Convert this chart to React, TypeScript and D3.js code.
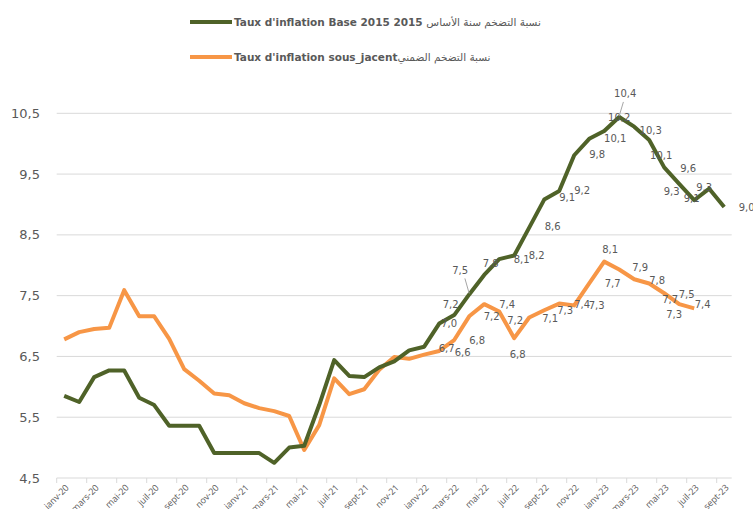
import React, { useEffect, useRef } from 'react';
import * as d3 from 'd3';

const months = [
  'janv-20', 'févr-20', 'mars-20', 'avr-20', 'mai-20', 'juin-20', 'juil-20', 'août-20', 'sept-20', 'oct-20', 'nov-20', 'déc-20',
  'janv-21', 'févr-21', 'mars-21', 'avr-21', 'mai-21', 'juin-21', 'juil-21', 'août-21', 'sept-21', 'oct-21', 'nov-21', 'déc-21',
  'janv-22', 'févr-22', 'mars-22', 'avr-22', 'mai-22', 'juin-22', 'juil-22', 'août-22', 'sept-22', 'oct-22', 'nov-22', 'déc-22',
  'janv-23', 'févr-23', 'mars-23', 'avr-23', 'mai-23', 'juin-23', 'juil-23', 'août-23', 'sept-23',
];

// Taux d'inflation Base 2015
const baseValues = [
  5.85, 5.75, 6.16, 6.27, 6.27, 5.82, 5.70, 5.36, 5.36, 5.36, 4.91, 4.91,
  4.91, 4.91, 4.75, 5.00, 5.03, 5.70, 6.44, 6.18, 6.16, 6.32, 6.42, 6.60,
  6.66, 7.04, 7.18, 7.52, 7.84, 8.10, 8.16, 8.62, 9.08, 9.22, 9.81, 10.08,
  10.21, 10.44, 10.28, 10.06, 9.61, 9.34, 9.07, 9.26, 8.96,
];

// Taux d'inflation sous-jacent
const coreValues = [
  6.78, 6.90, 6.95, 6.97, 7.59, 7.16, 7.16, 6.79, 6.29, 6.10, 5.89, 5.86,
  5.73, 5.65, 5.60, 5.52, 4.96, 5.37, 6.14, 5.88, 5.96, 6.28, 6.49, 6.46,
  6.53, 6.59, 6.77, 7.16, 7.36, 7.24, 6.80, 7.14, 7.26, 7.37, 7.34, 7.70,
  8.06, 7.93, 7.77, 7.70, 7.54, 7.36, 7.29,
];

const yTicks = [4.5, 5.5, 6.5, 7.5, 8.5, 9.5, 10.5];

// data label placement: [month index, dx, dy, leader line]
const baseLabels: [number, number, number, boolean?][] = [
  [24, 22.5, 1.5], [25, 10, 0], [26, -3.5, -11], [27, -9, -24, true], [28, 6.5, -11],
  [29, 22.5, 0.5], [30, 22.5, 0], [31, 23.5, -1.5], [32, 23, -2.5], [33, 23, -1],
  [34, 23, -1], [35, 26, 0], [36, 15, -13], [37, 6, -23, true], [38, 16.5, 4],
  [39, 12, 15], [40, 24, 1], [41, -7.5, 8], [42, -2.5, -2], [43, -5, -1], [44, 22.5, 1],
];
const coreLabels: [number, number, number, boolean?][] = [
  [25, 23.5, 2], [26, 23, 0.5], [27, 22.5, 0.5], [28, 23, 0], [29, 16, 9],
  [30, 3.5, 16], [31, 21, 1], [32, 21, 0], [33, 23, 1], [34, 22.5, 0],
  [35, 23.5, 0], [36, 6, -12], [37, 21, -2], [38, 23, 1.5], [39, 21, 16],
  [40, 22.5, 1], [41, 23.5, 0], [42, -20, 6],
];

const GREEN = '#4f6228';
const ORANGE = '#f79646';
const GREY_TEXT = '#595959';

const fmt = (v: number) => v.toFixed(1).replace('.', ',');

export default function App() {
  const svgRef = useRef<SVGSVGElement>(null);

  useEffect(() => {
    if (!svgRef.current) return;
    const svg = d3.select(svgRef.current);
    svg.selectAll('*').remove();

    const left = 56.7;
    const right = 731.7;
    const x = d3.scaleBand<string>().domain(months).range([left, right]).padding(0);
    const cx = (i: number) => (x(months[i]) || 0) + x.bandwidth() / 2;
    const y = d3.scaleLinear().domain([4.5, 10.5]).range([478, 113.3]);

    // gridlines
    svg.append('g')
      .selectAll('line')
      .data(yTicks.slice(1))
      .enter()
      .append('line')
      .attr('x1', left)
      .attr('x2', right)
      .attr('y1', d => y(d))
      .attr('y2', d => y(d))
      .attr('stroke', '#d9d9d9')
      .attr('stroke-width', 1);

    // y labels
    svg.append('g')
      .selectAll('text')
      .data(yTicks)
      .enter()
      .append('text')
      .attr('x', 40)
      .attr('y', d => y(d))
      .attr('dy', '0.35em')
      .attr('text-anchor', 'end')
      .attr('font-family', 'DejaVu Sans, sans-serif')
      .attr('font-size', 13)
      .attr('fill', GREY_TEXT)
      .text(d => fmt(d));

    // x axis
    const axisY = y(4.5);
    svg.append('line')
      .attr('x1', left)
      .attr('x2', right)
      .attr('y1', axisY)
      .attr('y2', axisY)
      .attr('stroke', '#d9d9d9')
      .attr('stroke-width', 1);

    const shown = months.filter((_, i) => i % 2 === 0);
    svg.append('g')
      .selectAll('line')
      .data(shown)
      .enter()
      .append('line')
      .attr('x1', d => x(d) || 0)
      .attr('x2', d => x(d) || 0)
      .attr('y1', axisY)
      .attr('y2', axisY + 5)
      .attr('stroke', '#d9d9d9');

    svg.append('g')
      .selectAll('text')
      .data(shown)
      .enter()
      .append('text')
      .attr('transform', d => `translate(${(x(d) || 0) + x.bandwidth() / 2 + 3},${axisY + 8}) rotate(-45)`)
      .attr('dy', '0.35em')
      .attr('text-anchor', 'end')
      .attr('font-family', 'Open Sans, sans-serif')
      .attr('font-size', 9)
      .attr('fill', GREY_TEXT)
      .text(d => d);

    // lines
    const line = d3.line<number>()
      .x((_, i) => cx(i))
      .y(d => y(d));

    svg.append('path')
      .datum(coreValues)
      .attr('d', line)
      .attr('fill', 'none')
      .attr('stroke', ORANGE)
      .attr('stroke-width', 4)
      .attr('stroke-linejoin', 'round');

    svg.append('path')
      .datum(baseValues)
      .attr('d', line)
      .attr('fill', 'none')
      .attr('stroke', GREEN)
      .attr('stroke-width', 4)
      .attr('stroke-linejoin', 'round');

    // data labels
    const drawLabels = (values: number[], labels: [number, number, number, boolean?][]) => {
      const g = svg.append('g');
      labels.forEach(([i, dx, dy, leader]) => {
        const px = cx(i);
        const py = y(values[i]);
        if (leader) {
          g.append('line')
            .attr('x1', px + dx * 0.7 + (dx > 0 ? 0 : 2))
            .attr('y1', py + dy + 8)
            .attr('x2', px)
            .attr('y2', py - 1)
            .attr('stroke', '#a6a6a6')
            .attr('stroke-width', 1);
        }
        g.append('text')
          .attr('x', px + dx)
          .attr('y', py + dy)
          .attr('dy', '0.35em')
          .attr('text-anchor', 'middle')
          .attr('font-family', 'DejaVu Sans, sans-serif')
          .attr('font-size', 10)
          .attr('fill', GREY_TEXT)
          .text(fmt(values[i]));
      });
    };
    drawLabels(baseValues, baseLabels);
    drawLabels(coreValues, coreLabels);

    // legend
    const legend = [
      { color: GREEN, y: 22, latin: "Taux d'inflation Base 2015 2015 ", arabic: 'نسبة التضخم سنة الأساس' },
      { color: ORANGE, y: 57, latin: "Taux d'inflation sous_jacent", arabic: 'نسبة التضخم الضمني' },
    ];
    legend.forEach(item => {
      svg.append('line')
        .attr('x1', 190)
        .attr('x2', 232)
        .attr('y1', item.y)
        .attr('y2', item.y)
        .attr('stroke', item.color)
        .attr('stroke-width', 4);
      const t = svg.append('text')
        .attr('x', 234)
        .attr('y', item.y)
        .attr('dy', '0.35em')
        .attr('font-family', 'DejaVu Sans, sans-serif')
        .attr('font-size', 10.5)
        .attr('fill', GREY_TEXT);
      t.append('tspan').attr('font-weight', 'bold').text(item.latin);
      t.append('tspan').text(item.arabic);
    });
  }, []);

  return (
    <svg
      ref={svgRef}
      width={753}
      height={509}
      style={{ position: 'absolute', left: 0, top: 0, background: '#fff' }}
    />
  );
}
